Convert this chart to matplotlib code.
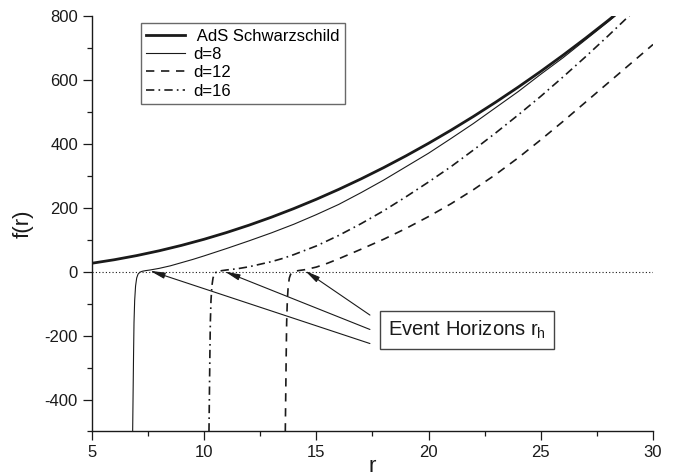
import matplotlib
matplotlib.use("Agg")
import matplotlib.pyplot as plt
from matplotlib.ticker import MultipleLocator

plt.rcParams['font.family'] = ['Liberation Sans', 'DejaVu Sans']
plt.rcParams['mathtext.fontset'] = 'custom'
plt.rcParams['mathtext.rm'] = 'Liberation Sans'
plt.rcParams['axes.unicode_minus'] = False

# AdS Schwarzschild curve
r_ads = [5, 6, 7, 8, 9, 10, 11, 12, 13, 14, 15, 16, 17, 18, 19, 20, 21, 22, 23, 24, 25, 26, 27, 28, 29]
f_ads = [26, 37, 50, 65, 82, 101, 122, 145, 170, 197, 226, 257, 290, 325, 362, 401, 442, 485, 530, 577, 626, 677, 730, 785, 842]

# d=8
r_d8 = [6.82, 6.84, 6.86, 6.88, 6.91, 6.95, 7.0, 7.06, 7.14, 7.25, 7.4, 7.6, 8.0, 8.5, 9.0, 9.5, 10, 11, 12, 13,
        14, 15, 16, 17, 18, 19, 20, 21, 22, 23, 24, 25, 26, 27, 28, 29]
f_d8 = [-500, -380, -260, -160, -90, -45, -20, -8, -2, 1, 3, 5, 10, 18, 28, 38, 49, 72, 96, 121,
        148, 178, 210, 247, 286, 328, 370, 416, 463, 513, 563, 617, 669, 725, 781, 839]

# d=12
r_d12 = [13.62, 13.64, 13.66, 13.68, 13.71, 13.75, 13.8, 13.86, 13.94, 14.05, 14.2, 14.5, 15, 15.5, 16, 17, 18,
         19, 20, 21, 22, 23, 24, 25, 26, 27, 28, 29, 30]
f_d12 = [-500, -380, -260, -160, -90, -45, -20, -8, -2, 1, 3, 6, 14, 26, 40, 70, 101,
         135, 172, 212, 256, 304, 356, 412, 470, 530, 590, 650, 710]

# d=16
r_d16 = [10.22, 10.24, 10.26, 10.28, 10.31, 10.35, 10.4, 10.46, 10.54, 10.65, 10.8, 11, 11.5, 12, 12.5, 13, 13.5,
         14, 15, 16, 17, 18, 19, 20, 21, 22, 23, 24, 25, 26, 27, 28, 29, 30]
f_d16 = [-500, -380, -260, -160, -90, -45, -20, -8, -2, 1, 3, 5, 9, 15, 23, 31, 41,
         53, 80, 113, 150, 190, 234, 280, 328, 380, 434, 490, 548, 609, 672, 737, 804, 873]

# horizon points the arrows point to
horizon_r = [7.59, 10.93, 14.50]
horizon_f = [2.5, 0, 2.5]
arrow_tail_r = 17.39
arrow_tail_f = [-225, -181, -136]

ink = '#1a1a1a'

fig = plt.figure(figsize=(6.83, 4.76), dpi=100)
ax = fig.add_axes([0.1344, 0.0935, 0.8217, 0.8735])

ax.plot(r_ads, f_ads, color=ink, lw=2.0, label=' AdS Schwarzschild')
ax.plot(r_d8, f_d8, color=ink, lw=0.8, label='d=8')
ax.plot(r_d12, f_d12, color=ink, lw=1.2, dashes=(5, 4), label='d=12')
ax.plot(r_d16, f_d16, color=ink, lw=1.2, dashes=(5, 2.5, 1, 2.5), label='d=16')

ax.axhline(0, color=ink, lw=0.8, ls=(0, (1, 2)))

for hr, hf, tf in zip(horizon_r, horizon_f, arrow_tail_f):
    ax.annotate('', xy=(hr, hf), xytext=(arrow_tail_r, tf),
                arrowprops=dict(arrowstyle='-|>,head_length=0.9,head_width=0.18',
                                color=ink, lw=0.8, shrinkA=0, shrinkB=0))

ax.text(18.2, -182, 'Event Horizons r$_{\\rm h}$', fontsize=14.5, color=ink, va='center', ha='left',
        bbox=dict(boxstyle='square,pad=0.4', facecolor='white', edgecolor='#444444', lw=1.0))

ax.set_xlim(5, 30)
ax.set_ylim(-500, 800)
ax.xaxis.set_major_locator(MultipleLocator(5))
ax.xaxis.set_minor_locator(MultipleLocator(2.5))
ax.yaxis.set_major_locator(MultipleLocator(200))
ax.yaxis.set_minor_locator(MultipleLocator(100))
ax.set_yticks([-400, -200, 0, 200, 400, 600, 800])

for side in ['top', 'right']:
    ax.spines[side].set_visible(False)
for side in ['left', 'bottom']:
    ax.spines[side].set_linewidth(1.0)
    ax.spines[side].set_color(ink)

ax.tick_params(which='major', direction='out', length=6.5, width=0.9, labelsize=12, colors=ink)
ax.tick_params(which='minor', direction='out', length=3.4, width=0.9, colors=ink)

ax.set_xlabel('r', fontsize=16, color=ink, labelpad=-3)
ax.set_ylabel('f(r)', fontsize=16, color=ink, labelpad=8)

leg = ax.legend(loc='upper left', bbox_to_anchor=(0.087, 0.983), borderaxespad=0, fontsize=12,
                frameon=True, fancybox=False, edgecolor='#444444', handlelength=2.3, handletextpad=0.5,
                labelspacing=0.2, borderpad=0.35)
leg.get_frame().set_linewidth(1.0)

fig.savefig('out.png', dpi=100)
